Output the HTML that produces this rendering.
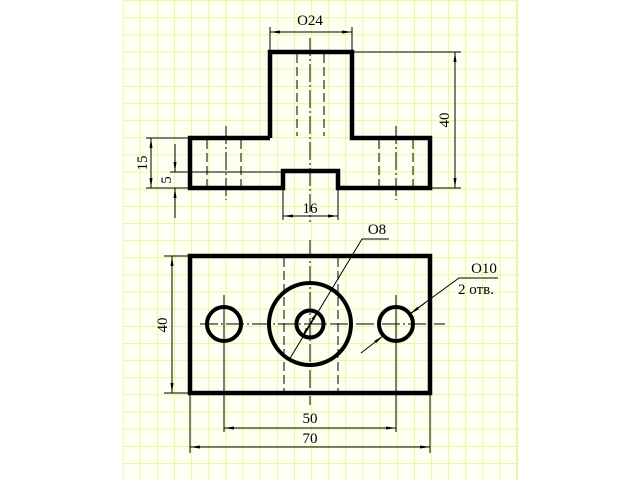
<!DOCTYPE html>
<html><head><meta charset="utf-8"><style>html,body{margin:0;padding:0;background:#fff}svg{display:block}</style></head>
<body>
<svg width="640" height="480" viewBox="0 0 640 480" xmlns="http://www.w3.org/2000/svg" font-family="Liberation Serif, serif">
<defs>
<pattern id="g" x="122.7" y="0.3" width="17.14" height="17.14" patternUnits="userSpaceOnUse">
<path d="M0 0V17.14M0 0H17.14" stroke="#dfee80" stroke-width="1.2" fill="none"/>
</pattern>
<marker id="a" viewBox="0 0 10 6" refX="10" refY="3" markerWidth="10" markerHeight="6" markerUnits="userSpaceOnUse" orient="auto-start-reverse"><path d="M0 1.5L10 3L0 4.5z" fill="#000"/></marker>
</defs>
<rect x="122.7" y="0" width="394.5" height="480" fill="#fdfff0"/>
<rect x="122.7" y="0" width="395.5" height="480" fill="url(#g)"/>
<line x1="517.2" y1="0" x2="517.2" y2="480" stroke="#dfee80" stroke-width="1.2"/>

<g fill="none" stroke="#000">
<path d="M270 138V52H352V138H430V188H338V171H283V188H190V138H270" stroke-width="4.5" stroke-linejoin="miter"/>
<g stroke-width="1" stroke-dasharray="9,4">
<line x1="297" y1="54" x2="297" y2="136"/><line x1="324" y1="54" x2="324" y2="136"/>
<line x1="207" y1="140" x2="207" y2="186"/><line x1="241" y1="140" x2="241" y2="186"/>
<line x1="379" y1="140" x2="379" y2="186"/><line x1="413" y1="140" x2="413" y2="186"/>
<line x1="284" y1="258" x2="284" y2="391"/><line x1="338" y1="258" x2="338" y2="391"/>
</g>
<g stroke-width="1" stroke-dasharray="18,3,2,3">
<line x1="310" y1="38" x2="310" y2="222"/>
<line x1="226" y1="126" x2="226" y2="200"/>
<line x1="396" y1="126" x2="396" y2="200"/>
<line x1="310" y1="240" x2="310" y2="405"/>
<line x1="200" y1="324" x2="445" y2="324"/>
</g>
<line x1="224" y1="295" x2="224" y2="432" stroke-width="1"/>
<line x1="396" y1="295" x2="396" y2="432" stroke-width="1"/>
<rect x="190" y="256" width="240" height="137" stroke-width="4.5"/>
<circle cx="310" cy="324" r="41" stroke-width="4"/>
<circle cx="310" cy="324" r="13.5" stroke-width="4"/>
<circle cx="224" cy="324" r="17" stroke-width="4"/>
<circle cx="396" cy="324" r="17" stroke-width="4"/>

<g stroke-width="1">
<line x1="270" y1="50" x2="270" y2="27"/><line x1="352" y1="50" x2="352" y2="27"/>
<line x1="270" y1="32" x2="352" y2="32" marker-start="url(#a)" marker-end="url(#a)"/>
<line x1="354" y1="52" x2="461" y2="52"/><line x1="432" y1="188" x2="461" y2="188"/>
<line x1="455" y1="52" x2="455" y2="188" marker-start="url(#a)" marker-end="url(#a)"/>
<line x1="146" y1="138" x2="190" y2="138"/><line x1="146" y1="188" x2="190" y2="188"/>
<line x1="170" y1="172" x2="283" y2="172"/>
<line x1="151" y1="138" x2="151" y2="188" marker-start="url(#a)" marker-end="url(#a)"/>
<line x1="175" y1="144" x2="175" y2="172" marker-end="url(#a)"/>
<line x1="175" y1="218" x2="175" y2="188" marker-end="url(#a)"/>
<line x1="283" y1="190" x2="283" y2="220"/><line x1="338" y1="190" x2="338" y2="220"/>
<line x1="283" y1="216" x2="338" y2="216" marker-start="url(#a)" marker-end="url(#a)"/>
<line x1="164" y1="256" x2="190" y2="256"/><line x1="164" y1="393" x2="190" y2="393"/>
<line x1="172" y1="256" x2="172" y2="393" marker-start="url(#a)" marker-end="url(#a)"/>
<line x1="224" y1="428" x2="396" y2="428" marker-start="url(#a)" marker-end="url(#a)"/>
<line x1="190" y1="395" x2="190" y2="453"/><line x1="430" y1="395" x2="430" y2="453"/>
<line x1="190" y1="447" x2="430" y2="447" marker-start="url(#a)" marker-end="url(#a)"/>
<polyline points="289,360 362,239 389,239"/>
<line x1="310" y1="324" x2="302" y2="337" marker-end="url(#a)"/>
<line x1="310" y1="324" x2="318" y2="311" marker-end="url(#a)"/>
<polyline points="411,313 459,278 498,278"/>
<line x1="425" y1="303" x2="410" y2="314" marker-end="url(#a)"/>
<line x1="361" y1="353" x2="383" y2="336" marker-end="url(#a)"/>
</g>
</g>

<g font-size="15" fill="#000">
<text x="310" y="25" text-anchor="middle">O24</text>
<text x="310" y="213" text-anchor="middle">16</text>
<text x="310" y="423" text-anchor="middle">50</text>
<text x="310" y="443" text-anchor="middle">70</text>
<text x="377" y="234" text-anchor="middle">O8</text>
<text x="484" y="273" text-anchor="middle">O10</text>
<text x="476" y="294" text-anchor="middle">2 отв.</text>
<text transform="translate(449,120) rotate(-90)" text-anchor="middle">40</text>
<text transform="translate(147,163) rotate(-90)" text-anchor="middle">15</text>
<text transform="translate(171,180) rotate(-90)" text-anchor="middle">5</text>
<text transform="translate(167,325) rotate(-90)" text-anchor="middle">40</text>
</g>
</svg>
</body></html>
